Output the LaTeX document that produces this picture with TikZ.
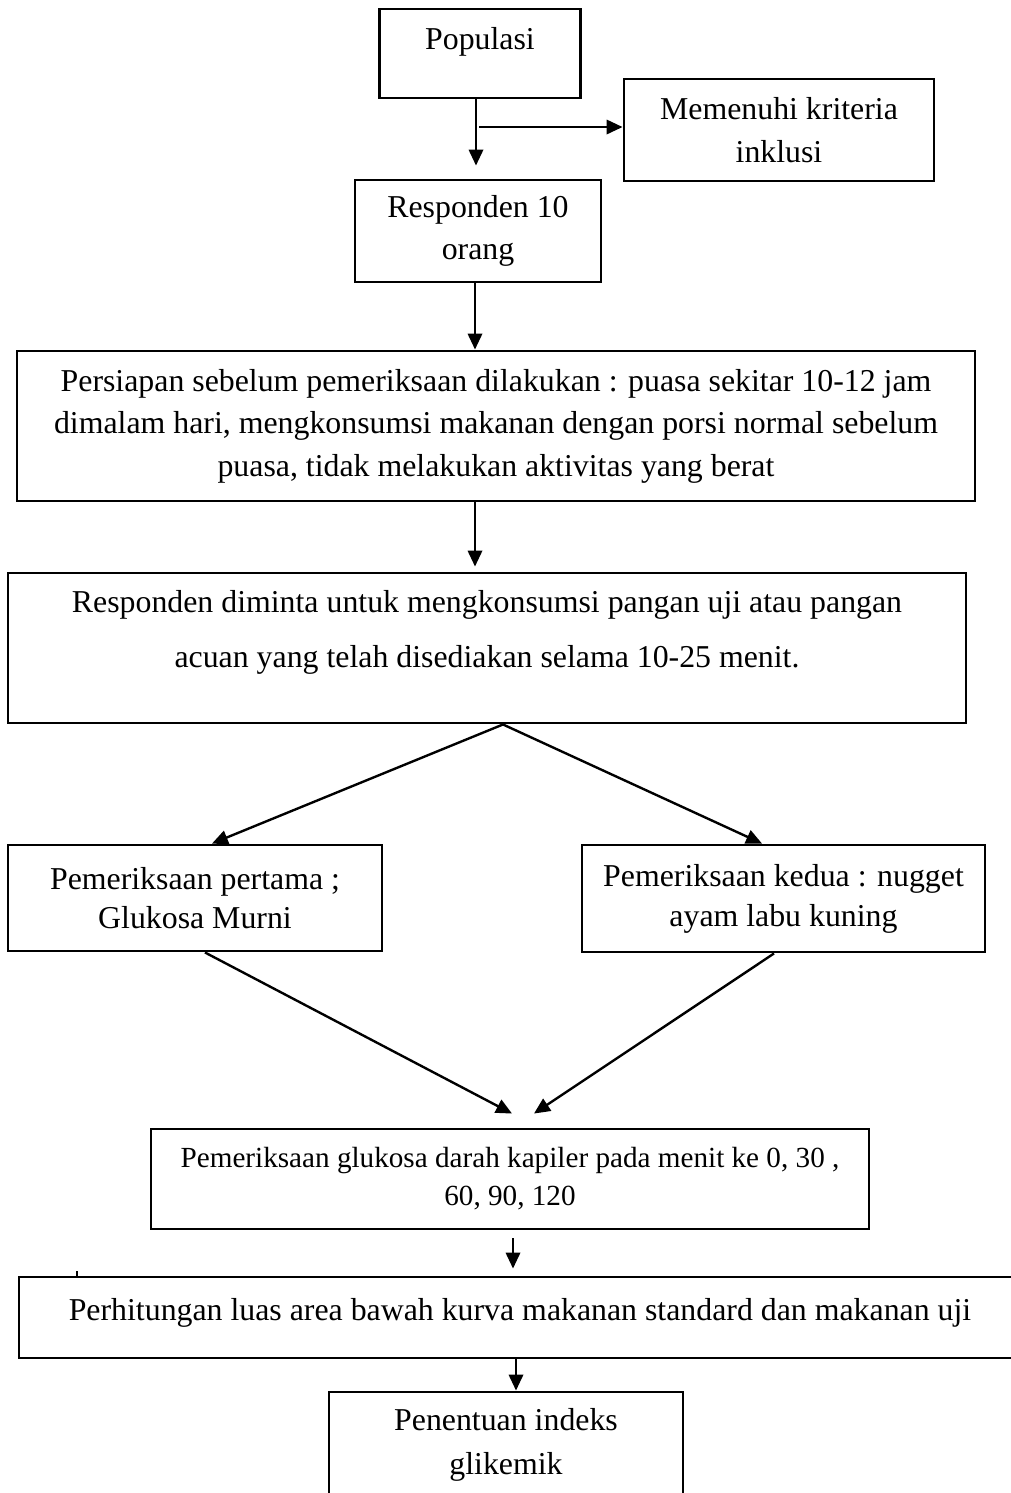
\documentclass[tikz,border=0pt]{standalone}
\usepackage{fontspec}
\setmainfont{Liberation Serif}
\usetikzlibrary{arrows.meta}
\newlength\pxu
\setlength\pxu{0.377pt}
\tikzset{
  box/.style={draw, line width=1.1pt, align=center, inner sep=0pt,
    font=\fontsize{12}{16}\selectfont},
  link/.style={line width=0.9pt}
}
\begin{document}
\begin{tikzpicture}[x=0.377pt, y=-0.377pt, >={Triangle[length=6pt,width=5.4pt]}]
\useasboundingbox (0,0) rectangle (1010,1493);
% boxes
\node[box, minimum width=201\pxu, minimum height=89\pxu, text depth=11.3pt] (pop) at (480,53.5) {Populasi};
\node[box, minimum width=310\pxu, minimum height=102\pxu] (krit) at (779,130) {Memenuhi kriteria\\inklusi};
\node[box, minimum width=246\pxu, minimum height=102\pxu] (resp) at (478,231) {Responden 10\\orang};
\node[box, minimum width=958\pxu, minimum height=150\pxu] (prep) at (496,426)
  {Persiapan sebelum pemeriksaan dilakukan : puasa sekitar 10-12 jam\\dimalam hari, mengkonsumsi makanan dengan porsi normal sebelum\\puasa, tidak melakukan aktivitas yang berat};
\node[box, minimum width=958\pxu, minimum height=150\pxu, font=\fontsize{12}{20.7}\selectfont, text depth=14.6pt] (uji) at (487,648)
  {Responden diminta untuk mengkonsumsi pangan uji atau pangan\\acuan yang telah disediakan selama 10-25 menit.};
\node[box, font=\fontsize{12}{15}\selectfont, minimum width=374\pxu, minimum height=106\pxu] (periksa1) at (195,898) {Pemeriksaan pertama ;\\Glukosa Murni};
\node[box, font=\fontsize{12}{15}\selectfont, minimum width=403\pxu, minimum height=107\pxu] (periksa2) at (783.5,898.5) {Pemeriksaan kedua : nugget\\ayam labu kuning};
\node[box, font=\fontsize{11}{14.3}\selectfont, minimum width=718\pxu, minimum height=100\pxu] (kapiler) at (510,1179)
  {Pemeriksaan glukosa darah kapiler pada menit ke 0, 30 ,\\60, 90, 120};
\node[box, minimum width=1002\pxu, minimum height=81\pxu, text depth=6pt] (luas) at (520,1317.5)
  {Perhitungan luas area bawah kurva makanan standard dan makanan uji};
\node[box, font=\fontsize{12}{16.6}\selectfont, minimum width=354\pxu, minimum height=106\pxu] (indeks) at (506,1445) {Penentuan indeks\\glikemik};
% arrows
\coordinate (split) at (479,127);
\draw[link,->] ([xshift=-4\pxu]pop.south) -- ([xshift=-2\pxu,yshift=13\pxu]resp.north);
\draw[link,->] (split) -- (split -| krit.west);
\draw[link,->] ([xshift=-3\pxu]resp.south) -- ([xshift=-21\pxu]prep.north);
\draw[link,->] ([xshift=-21\pxu]prep.south) -- ([xshift=-12\pxu,yshift=5\pxu]uji.north);
\coordinate (fork) at ([xshift=16\pxu]uji.south);
\draw[link,->] (fork) -- ([xshift=17\pxu]periksa1.north);
\draw[link,->] (fork) -- ([xshift=-21.5\pxu]periksa2.north);
\draw[link,->] ([xshift=10\pxu]periksa1.south) -- ([xshift=2\pxu,yshift=14\pxu]kapiler.north);
\draw[link,->] ([xshift=-9.5\pxu]periksa2.south) -- ([xshift=24\pxu,yshift=14\pxu]kapiler.north);
\draw[link,->] ([xshift=3\pxu,yshift=-8\pxu]kapiler.south) -- ([xshift=-7\pxu,yshift=7\pxu]luas.north);
\draw[link,->] ([xshift=-4\pxu]luas.south) -- ([xshift=10\pxu]indeks.north);
% stray tick
\draw[link] (77,1271) -- (77,1277);
\end{tikzpicture}
\end{document}
